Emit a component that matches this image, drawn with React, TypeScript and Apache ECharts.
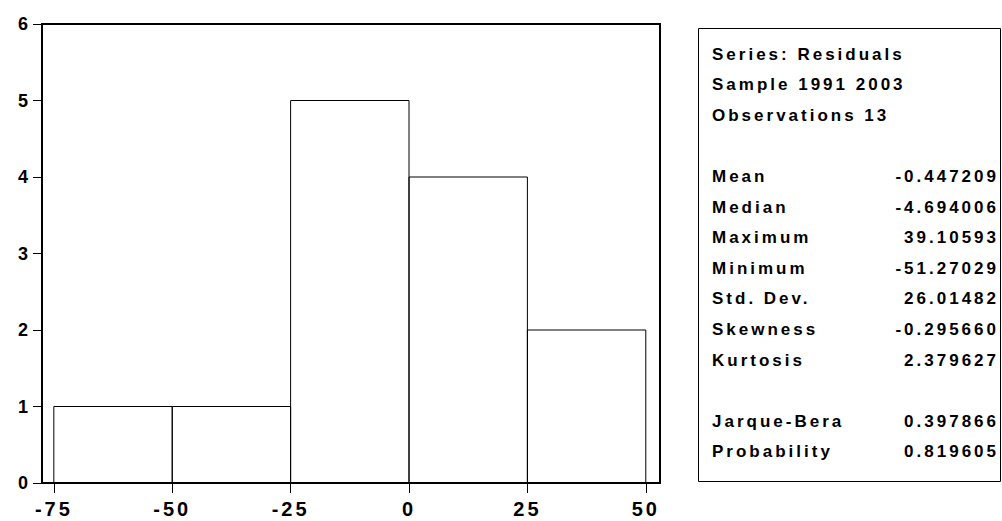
import React, { useEffect, useRef } from 'react';
import * as echarts from 'echarts';

const binStarts = [-75, -50, -25, 0, 25];
const binEnds = [-50, -25, 0, 25, 50];
const counts = [1, 1, 5, 4, 2];
const xTicks = [-75, -50, -25, 0, 25, 50];
const headerLines = ['Series: Residuals', 'Sample 1991 2003', 'Observations 13'];
const statLabels = ['Mean', 'Median', 'Maximum', 'Minimum', 'Std. Dev.', 'Skewness', 'Kurtosis'];
const statValues = ['-0.447209', '-4.694006', '39.10593', '-51.27029', '26.01482', '-0.295660', '2.379627'];
const testLabels = ['Jarque-Bera', 'Probability'];
const testValues = ['0.397866', '0.819605'];

const FONT = '"Liberation Sans", Arial, sans-serif';
const LS = 3;

export default function App() {
  const ref = useRef<HTMLDivElement>(null);
  useEffect(() => {
    if (!ref.current) return;
    const chart = echarts.init(ref.current, undefined, { renderer: 'svg' });
    const rowY = (i: number) => 54 + 30.6 * i;
    const rows: { label: string; value?: string; row: number }[] = [];
    headerLines.forEach((t, i) => rows.push({ label: t, row: i }));
    statLabels.forEach((t, i) => rows.push({ label: t, value: statValues[i], row: 4 + i }));
    testLabels.forEach((t, i) => rows.push({ label: t, value: testValues[i], row: 12 + i }));
    const graphics: any[] = [
      {
        type: 'rect',
        shape: { x: 698.5, y: 28.5, width: 302, height: 453 },
        style: { fill: 'none', stroke: '#000', lineWidth: 1 },
      },
    ];
    rows.forEach((r) => {
      graphics.push({
        type: 'text',
        x: 712,
        y: rowY(r.row),
        style: {
          text: r.label,
          fill: '#000',
          font: `bold 17px ${FONT}`,
          align: 'left',
          verticalAlign: 'middle',
          textAlign: 'left',
          textVerticalAlign: 'middle',
        },
      });
      if (r.value) {
        graphics.push({
          type: 'text',
          x: 996 + LS,
          y: rowY(r.row),
          style: {
            text: r.value,
            fill: '#000',
            font: `bold 17px ${FONT}`,
            align: 'right',
            verticalAlign: 'middle',
            textAlign: 'right',
            textVerticalAlign: 'middle',
          },
        });
      }
    });
    chart.setOption({
      animation: false,
      backgroundColor: '#fff',
      grid: {
        left: 42,
        top: 24,
        width: 618,
        height: 459,
        show: true,
        borderColor: '#000',
        borderWidth: 2,
        backgroundColor: 'transparent',
      },
      xAxis: {
        type: 'value',
        min: -77.5,
        max: 53,
        axisLine: { show: false, onZero: false },
        splitLine: { show: false },
        axisTick: {
          show: true,
          length: 10,
          customValues: xTicks,
          lineStyle: { color: '#000', width: 1 },
        },
        axisLabel: {
          customValues: xTicks,
          color: '#000',
          fontSize: 20,
          fontWeight: 'bold',
          fontFamily: FONT,
          margin: 16,
        },
      },
      yAxis: {
        type: 'value',
        min: 0,
        max: 6,
        interval: 1,
        axisLine: { show: false, onZero: false },
        splitLine: { show: false },
        axisTick: { show: true, length: 9, lineStyle: { color: '#000', width: 1 } },
        axisLabel: {
          color: '#000',
          fontSize: 18,
          fontWeight: 'bold',
          fontFamily: FONT,
          margin: 11,
        },
      },
      series: [
        {
          type: 'custom',
          data: binStarts.map((s, i) => [s, binEnds[i], counts[i]]),
          encode: { x: [0, 1], y: 2 },
          renderItem: (params: any, api: any) => {
            const p0 = api.coord([api.value(0), api.value(2)]);
            const p1 = api.coord([api.value(1), 0]);
            return {
              type: 'rect',
              shape: { x: p0[0], y: p0[1], width: p1[0] - p0[0], height: p1[1] - p0[1] },
              style: { fill: 'none', stroke: '#000', lineWidth: 1 },
            };
          },
        },
      ],
      graphic: graphics,
    });
    const tickTexts = new Set(xTicks.map(String));
    ref.current.querySelectorAll('text').forEach((t) => {
      const isX = tickTexts.has((t.textContent || '').trim()) && Number(t.getAttribute('y') || 0) > 490;
      t.setAttribute('letter-spacing', String(isX ? 4 : LS));
    });
    return () => chart.dispose();
  }, []);
  return (
    <div
      ref={ref}
      style={{ position: 'fixed', left: 0, top: 0, width: 1002, height: 521, background: '#fff' }}
    />
  );
}
